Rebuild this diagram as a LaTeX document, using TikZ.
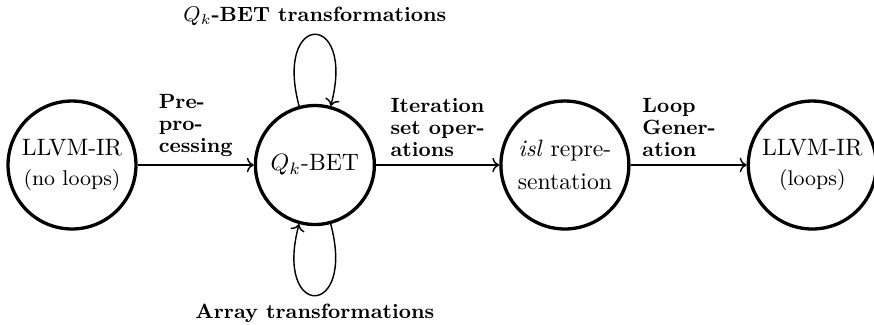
\documentclass[tikz,border=0pt]{standalone}
\usepackage{amsmath}
\usepackage{amssymb}
\usetikzlibrary{arrows.meta,positioning}

\tikzset{
  stagenode/.style={circle, draw, line width=1.4pt, align=center,
    inner sep=1pt, minimum size=54pt},
  steplabel/.style={font=\fontsize{8.7}{9.2}\selectfont\bfseries, align=left},
  flow/.style={->, semithick}
}

\begin{document}
\begin{tikzpicture}[x=0.422pt, y=-0.422pt]
  \useasboundingbox (0,0) rectangle (874,324);

  \node[stagenode] (llvmin) at (72,165) {LLVM-IR\\[0.7pt]{\small (no loops)}};
  \node[stagenode, minimum size=50.2pt, right=49pt of llvmin] (qbet) {$Q_k$-BET};
  \node[stagenode, right=52pt of qbet] (isl) {\textit{isl} repre-\\[2pt]sentation};
  \node[stagenode, right=49pt of isl] (llvmout) {LLVM-IR\\[0.7pt]{\small (loops)}};

  \draw[flow] (llvmin) -- node[steplabel, above] {Pre-\\pro-\\cessing} (qbet);
  \draw[flow] (qbet) -- node[steplabel, above] {Iteration\\set oper-\\ations} (isl);
  \draw[flow] (isl) -- node[steplabel, above, xshift=-4pt] {Loop\\Gener-\\ation} (llvmout);

  % self loops on the BET stage
  \draw[flow] (qbet) to[out=105, in=75, looseness=8] node[steplabel, above] {$Q_k$-BET transformations} (qbet);
  \draw[flow] (qbet) to[out=285, in=255, looseness=8] node[steplabel, below] {Array transformations} (qbet);
\end{tikzpicture}
\end{document}
